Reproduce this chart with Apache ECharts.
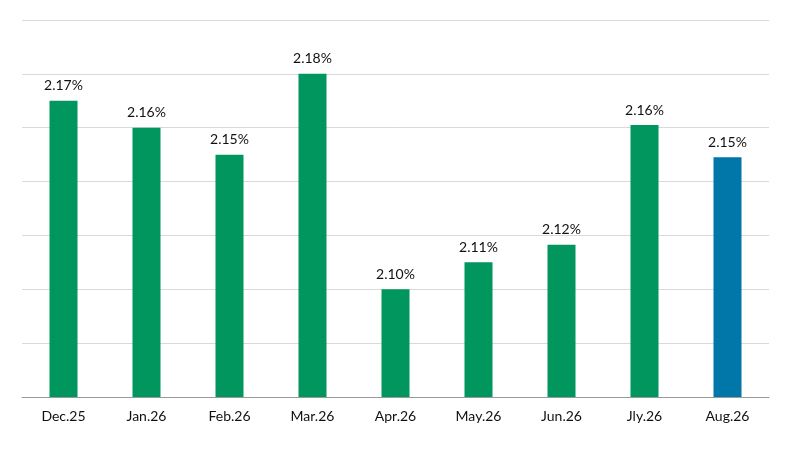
<!DOCTYPE html>
<html><head><meta charset="utf-8">
<script src="https://cdn.jsdelivr.net/npm/echarts@6/dist/echarts.min.js"></script>
<style>html,body{margin:0;background:#fff}#c{width:801px;height:449px}</style>
</head><body><div id="c"></div>
<script>
const categories=["Dec.25","Jan.26","Feb.26","Mar.26","Apr.26","May.26","Jun.26","Jly.26","Aug.26"];
const values=[2.17,2.16,2.15,2.18,2.10,2.11,2.1165,2.161,2.149];
const labels=["2.17%","2.16%","2.15%","2.18%","2.10%","2.11%","2.12%","2.16%","2.15%"];
const colors=["#00965e","#00965e","#00965e","#00965e","#00965e","#00965e","#00965e","#00965e","#0077a8"];
const chart=echarts.init(document.getElementById('c'));
chart.setOption({
  animation:false,
  grid:{left:22,right:32,top:20,bottom:52},
  xAxis:{type:'category',data:categories,axisTick:{show:false},
    axisLine:{lineStyle:{color:'#999'}},
    axisLabel:{color:'#111',fontSize:14,fontFamily:'Lato',margin:12}},
  yAxis:{type:'value',min:2.06,max:2.20,interval:0.02,axisLabel:{show:false},
    splitLine:{lineStyle:{color:'#d9d9d9'}}},
  series:[{type:'bar',barWidth:28,
    data:values.map((v,i)=>({value:v,itemStyle:{color:colors[i]}})),
    label:{show:true,position:'top',distance:8,color:'#111',fontSize:14,fontFamily:'Lato',
      formatter:p=>labels[p.dataIndex]}}]
});
</script></body></html>
